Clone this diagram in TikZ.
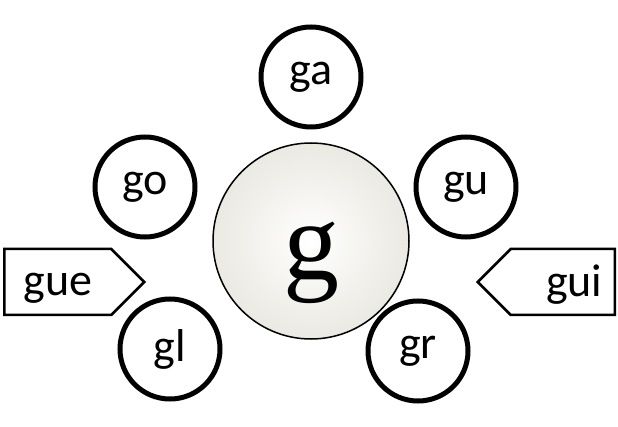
\documentclass[tikz,border=0pt]{standalone}
\usepackage{fontspec}
\setmainfont{Carlito}
\newfontfamily\serifg{Liberation Serif}
\usetikzlibrary{shapes.symbols}
\definecolor{ballgray}{RGB}{234,233,226}
\tikzset{
  silaba/.style={circle,draw,line width=5pt,minimum size=100pt,inner sep=0pt,font=\fontsize{46}{46}\selectfont},
  flecha/.style={signal,draw,line width=2.5pt,minimum height=66pt,inner sep=0pt,signal pointer angle=90,font=\fontsize{46}{46}\selectfont}
}
\begin{document}
\begin{tikzpicture}[x=1pt,y=-1pt]
      \useasboundingbox (0,0) rectangle (618,427);
      \node[circle,draw,line width=1.5pt,minimum size=196pt,inner sep=0pt,
            inner color=white,outer color=ballgray,
            font=\fontsize{112}{112}\selectfont\serifg] (g) at (311,241) {\raisebox{-39pt}[0pt][0pt]{g}};

      \node[silaba] (ga) at (311,77) {ga};
      \node[silaba] (go) at (145,187) {go};
      \node[silaba] (gu) at (466,187) {gu};
      \node[silaba] (gl) at (170,349) {gl};
      \node[silaba] (gr) at (418,351) {gr};

      \node[flecha,signal to=east,minimum width=140pt,anchor=west] (gue) at (3,282) {\raisebox{-14pt}[0pt][0pt]{gue}\hspace{15pt}};
      \node[flecha,signal to=west,minimum width=137pt,anchor=east] (gui) at (616,282) {\hspace{23pt}\raisebox{-15pt}[0pt][0pt]{gui}};
    \end{tikzpicture}
\end{document}
